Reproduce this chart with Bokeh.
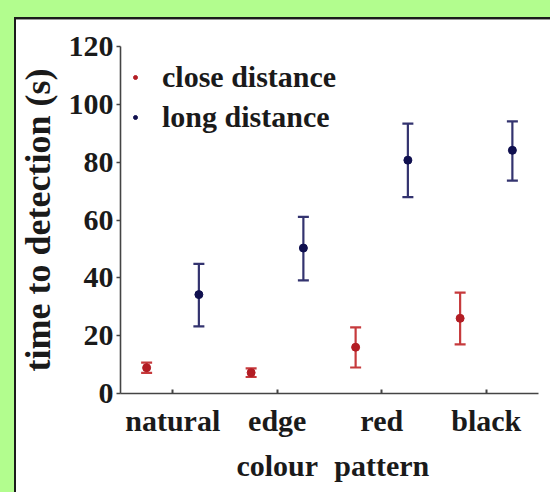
from bokeh.plotting import figure
from bokeh.models import (ColumnDataSource, Range1d, Whisker, TeeHead, FixedTicker,
                          LinearAxis, Legend, LegendItem, GlobalInlineStyleSheet)
from bokeh.transform import dodge
from bokeh.embed import file_html
from bokeh.resources import INLINE

# ---- data ----
categories = ["natural", "edge colour", "red pattern", "black"]
label_line1 = ["natural", "edge", "red", "black"]
label_line2 = ["", "colour", "pattern", ""]
close_mean = [8.9, 7.2, 16.0, 26.0]
close_low = [7.1, 5.7, 9.0, 17.0]
close_high = [10.7, 8.7, 22.9, 34.9]
long_mean = [34.2, 50.3, 80.7, 84.1]
long_low = [23.2, 39.1, 67.9, 73.6]
long_high = [44.8, 61.1, 93.3, 94.1]
series_names = ["close distance", "long distance"]
y_ticks = [0, 20, 40, 60, 80, 100, 120]
y_title = "time to detection (s)"

# ---- styles ----
FONT = "Liberation Serif"
RED_DOT, RED_BAR = "#b31d24", "#c63a3c"
BLUE_DOT, BLUE_BAR = "#10104f", "#33336f"
TXT = "#1a1a1a"
AXC = "#444444"
PAGE_CSS = (
    "body { background:"
    " linear-gradient(#1c1c1c,#1c1c1c) 14px 17px / 100% 2px no-repeat,"
    " linear-gradient(#1c1c1c,#1c1c1c) 14px 17px / 2px 100% no-repeat,"
    " linear-gradient(#9a9a9a,#9a9a9a) 16px 19px / 100% 1px no-repeat,"
    " linear-gradient(#ffffff,#ffffff) 14px 17px / 100% 100% no-repeat,"
    " #b2fd8e; }"
)

xpos = list(range(1, len(categories) + 1))
src = ColumnDataSource(dict(x=xpos, cm=close_mean, cl=close_low, ch=close_high,
                            lm=long_mean, ll=long_low, lh=long_high))

p = figure(width=542, height=484, x_range=Range1d(0.5, len(categories) + 0.5),
           y_range=Range1d(0, 120), output_backend="svg", toolbar_location=None,
           min_border_left=120, min_border_right=4, min_border_top=46, min_border_bottom=88,
           background_fill_color="white", border_fill_alpha=0, outline_line_color=None)
p.stylesheets = [GlobalInlineStyleSheet(css=PAGE_CSS)]
p.xgrid.grid_line_color = None
p.ygrid.grid_line_color = None

# error bars
for base_off, lo, hi, col in [(-0.25, "cl", "ch", RED_BAR), (0.25, "ll", "lh", BLUE_BAR)]:
    w = Whisker(base=dodge("x", base_off), lower=lo, upper=hi, source=src, dimension="height",
                line_color=col, line_width=2.2,
                upper_head=TeeHead(size=11, line_color=col, line_width=2.2),
                lower_head=TeeHead(size=11, line_color=col, line_width=2.2))
    p.add_layout(w)

r_close = p.scatter(x=dodge("x", -0.25), y="cm", source=src, size=8, marker="circle",
                    fill_color=RED_DOT, line_color=RED_DOT)
r_long = p.scatter(x=dodge("x", 0.25), y="lm", source=src, size=8, marker="circle",
                   fill_color=BLUE_DOT, line_color=BLUE_DOT)

# x axis (first line of labels)
xa = p.xaxis[0]
xa.ticker = FixedTicker(ticks=xpos, minor_ticks=[])
xa.major_label_overrides = {x: t for x, t in zip(xpos, label_line1)}
xa.major_tick_in = 4
xa.major_tick_out = 0
xa.major_label_standoff = 10
xa.axis_line_color = AXC
xa.axis_line_width = 1.6
xa.major_tick_line_color = AXC
xa.major_tick_line_width = 2
xa.minor_tick_line_color = None

# second line of labels
xa2 = LinearAxis(ticker=FixedTicker(ticks=xpos, minor_ticks=[]),
                 major_label_overrides={x: t for x, t in zip(xpos, label_line2)},
                 axis_line_color=None, major_tick_line_color=None, minor_tick_line_color=None,
                 major_label_standoff=3)
p.add_layout(xa2, "below")

for ax in (xa, xa2):
    ax.major_label_text_font = FONT
    ax.major_label_text_font_size = "30px"
    ax.major_label_text_font_style = "bold"
    ax.major_label_text_color = TXT

ya = p.yaxis[0]
ya.ticker = FixedTicker(ticks=y_ticks, minor_ticks=[])
ya.major_tick_in = 0
ya.major_tick_out = 4
ya.major_label_standoff = 3
ya.axis_line_color = AXC
ya.axis_line_width = 1.6
ya.major_tick_line_color = AXC
ya.major_tick_line_width = 1.5
ya.minor_tick_line_color = None
ya.major_label_text_font = FONT
ya.major_label_text_font_size = "30px"
ya.major_label_text_font_style = "bold"
ya.major_label_text_color = TXT
ya.axis_label = y_title
ya.axis_label_text_font = FONT
ya.axis_label_text_font_size = "36px"
ya.axis_label_text_font_style = "bold"
ya.axis_label_text_color = TXT
ya.axis_label_standoff = 8

legend = Legend(items=[LegendItem(label=series_names[0], renderers=[r_close]),
                       LegendItem(label=series_names[1], renderers=[r_long])],
                location=(10, 259), border_line_color=None, background_fill_alpha=0,
                padding=0, margin=0, spacing=6, glyph_width=10, glyph_height=20,
                label_standoff=22, label_text_font=FONT, label_text_font_size="30px",
                label_text_font_style="bold", label_text_color=TXT)
p.add_layout(legend)

open("out.html", "w").write(file_html(p, INLINE))
